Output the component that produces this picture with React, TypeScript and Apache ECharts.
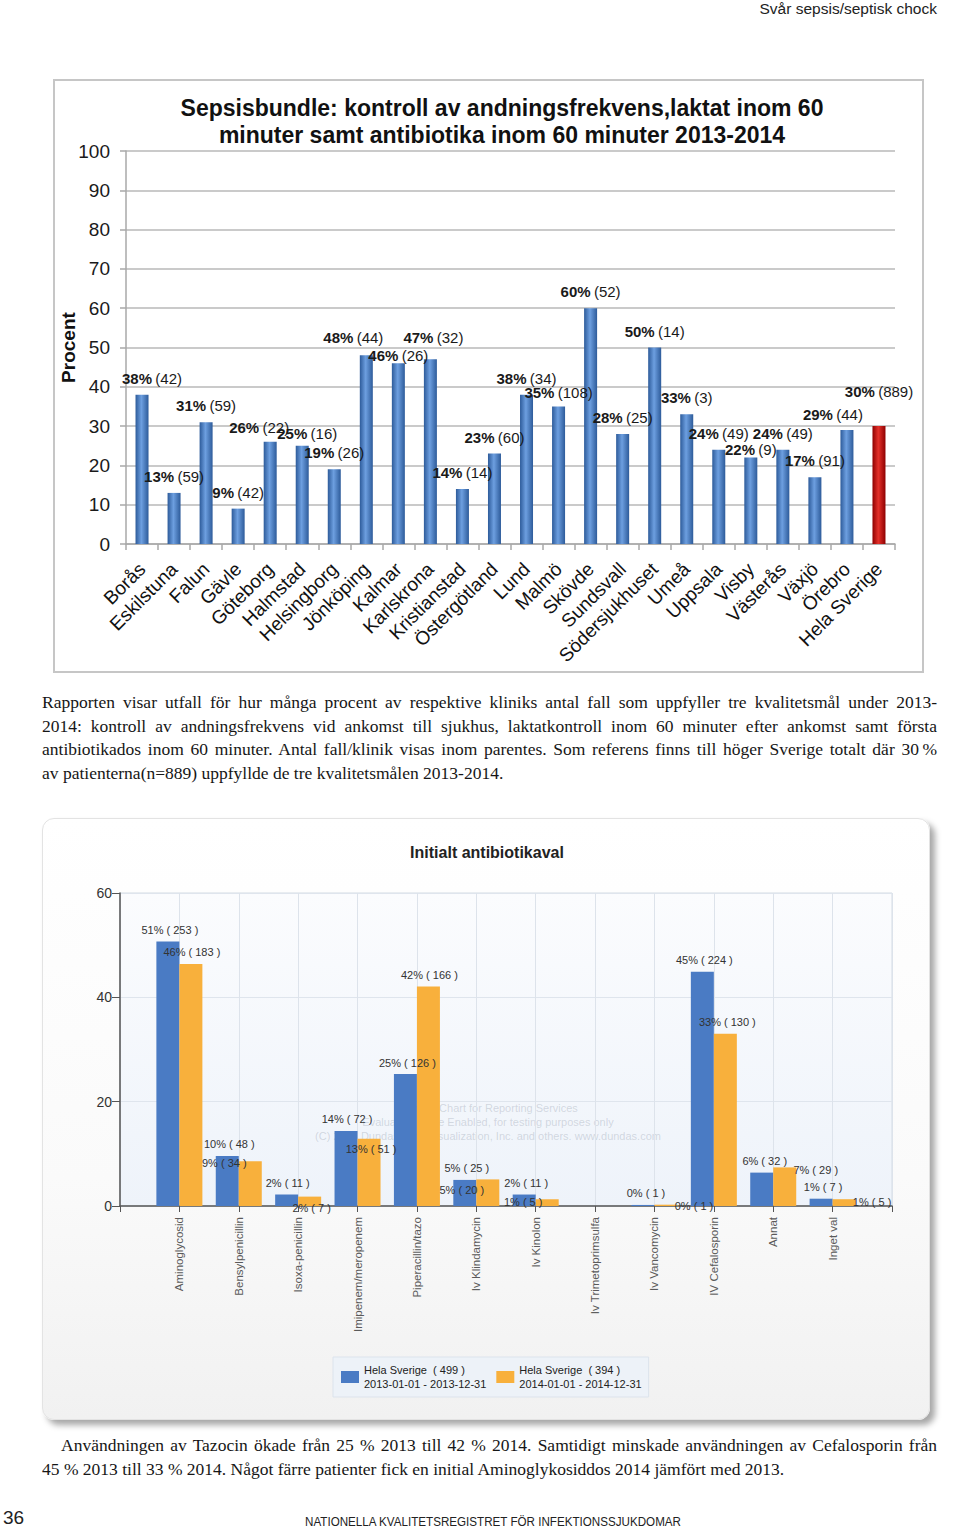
import React, { useEffect, useRef } from 'react';
import * as echarts from 'echarts';

// ---------- Top chart data ----------
const hospitals = [
  'Borås', 'Eskilstuna', 'Falun', 'Gävle', 'Göteborg', 'Halmstad', 'Helsingborg', 'Jönköping',
  'Kalmar', 'Karlskrona', 'Kristianstad', 'Östergötland', 'Lund', 'Malmö', 'Skövde', 'Sundsvall',
  'Södersjukhuset', 'Umeå', 'Uppsala', 'Visby', 'Västerås', 'Växjö', 'Örebro', 'Hela Sverige',
];
const bundlePercent = [38, 13, 31, 9, 26, 25, 19, 48, 46, 47, 14, 23, 38, 35, 60, 28, 50, 33, 24, 22, 24, 17, 29, 30];
const bundleCases = [42, 59, 59, 42, 22, 16, 26, 44, 26, 32, 14, 60, 34, 108, 52, 25, 14, 3, 49, 9, 49, 91, 44, 889];
const bundleYMax = 100;
const bundleYStep = 10;

// label nudges (layout only)
const bundleLabelOffsets = [
  [10, 0], [0, 0], [0, 0], [0, 0], [-11, 2], [5, 4], [0, 0], [-13, -1],
  [0, 9], [3, -5], [0, 0], [0, 0], [0, 0], [0, 3], [0, 0], [0, 0],
  [0, 0], [0, 0], [0, 0], [0, 8], [0, 0], [0, 0], [-14, 1], [0, -18],
];

// ---------- Bottom chart data ----------
const antibiotics = [
  'Aminoglycosid', 'Bensylpenicillin', 'Isoxa-penicillin', 'Imipenem/meropenem', 'Piperacillin/tazo',
  'Iv Klindamycin', 'Iv Kinolon', 'Iv Trimetoprimsulfa', 'Iv Vancomycin', 'IV Cefalosporin', 'Annat', 'Inget val',
];
const percent2013 = [50.7, 9.6, 2.2, 14.4, 25.3, 5.0, 2.2, null, 0.2, 44.9, 6.4, 1.4];
const count2013 = [253, 48, 11, 72, 126, 25, 11, null, 1, 224, 32, 7];
const percent2014 = [46.4, 8.6, 1.8, 12.9, 42.1, 5.1, 1.3, null, 0.25, 33.0, 7.4, 1.3];
const count2014 = [183, 34, 7, 51, 166, 20, 5, null, 1, 130, 29, 5];
const legend2013 = 'Hela Sverige  ( 499 )\n2013-01-01 - 2013-12-31';
const legend2014 = 'Hela Sverige  ( 394 )\n2014-01-01 - 2014-12-31';
const abYMax = 60;
const abYStep = 20;

const offsets2013 = [[2, 0], [2, 0], [1, 0], [1, 0], [2, 0], [2, 0], [2, 0], [0, 0], [3, 0], [2, 0], [3, 0], [2, 0]];
const offsets2014 = [[1, 0], [-26, 13], [2, 23], [2, 22], [1, 0], [-26, 22], [-24, 14], [0, 0], [28, 13], [2, 0], [31, 14], [28, 14]];

const SANS = "'Liberation Sans', Arial, sans-serif";
const NARROW = "'Liberation Sans Narrow', 'Arial Narrow', 'Liberation Sans', Arial, sans-serif";
const SERIF = "'Liberation Serif', 'Times New Roman', serif";

function buildTop() {
  const blue = new echarts.graphic.LinearGradient(0, 0, 1, 0, [
    { offset: 0, color: '#2d5b9a' },
    { offset: 0.45, color: '#6d9fe0' },
    { offset: 1, color: '#2d5b9a' },
  ]);
  const red = new echarts.graphic.LinearGradient(0, 0, 1, 0, [
    { offset: 0, color: '#8e0000' },
    { offset: 0.45, color: '#e4302a' },
    { offset: 1, color: '#8e0000' },
  ]);
  const last = hospitals.length - 1;
  return {
    animation: false,
    textStyle: { fontFamily: SANS },
    graphic: [
      {
        type: 'text', x: 449, y: 29,
        style: {
          text: 'Sepsisbundle: kontroll av andningsfrekvens,laktat inom 60',
          font: `bold 23px ${SANS}`, fill: '#111', align: 'center', verticalAlign: 'middle',
        },
      },
      {
        type: 'text', x: 449, y: 56,
        style: {
          text: 'minuter samt antibiotika inom 60 minuter 2013-2014',
          font: `bold 23px ${SANS}`, fill: '#111', align: 'center', verticalAlign: 'middle',
        },
      },
    ],
    grid: { left: 73, top: 72, width: 769, height: 393, containLabel: false, outerBoundsMode: 'none' },
    xAxis: {
      type: 'category',
      data: hospitals,
      axisLine: { lineStyle: { color: '#a8a8a8', width: 1.5 } },
      axisTick: { show: true, length: 6, lineStyle: { color: '#a8a8a8', width: 1.5 } },
      axisLabel: { interval: 0, rotate: 45, fontSize: 19, color: '#111', margin: 22, fontFamily: SANS },
    },
    yAxis: {
      type: 'value',
      min: 0, max: bundleYMax, interval: bundleYStep,
      name: 'Procent',
      nameLocation: 'middle',
      nameGap: 48,
      nameRotate: 90,
      nameMoveOverlap: false,
      nameTextStyle: { fontSize: 19, fontWeight: 'bold', color: '#111', fontFamily: SANS },
      axisLine: { show: true, lineStyle: { color: '#a8a8a8', width: 1.5 } },
      axisTick: { show: true, length: 6, lineStyle: { color: '#a8a8a8', width: 1.5 } },
      axisLabel: { fontSize: 19, color: '#1a1a1a', margin: 16, fontFamily: SANS },
      splitLine: { lineStyle: { color: '#b8b8b8', width: 1.5 } },
    },
    series: [
      {
        type: 'bar',
        barWidth: 13,
        data: bundlePercent.map((v, i) => ({
          value: v,
          itemStyle: { color: i === last ? red : blue },
          label: { offset: bundleLabelOffsets[i] },
        })),
        label: {
          show: true,
          position: 'top',
          distance: 9,
          formatter: (p: any) => `{b|${p.value}%} {n|(${bundleCases[p.dataIndex]})}`,
          rich: {
            b: { fontSize: 15, fontWeight: 'bold', color: '#1a1a1a', fontFamily: SANS },
            n: { fontSize: 15, color: '#1a1a1a', fontFamily: SANS },
          },
        },
      },
    ],
  };
}

function buildBottom() {
  const cats = ['', ...antibiotics, ''];
  const pad = (a: any[]) => [null, ...a, null];
  const mk = (vals: any[], offs: number[][]) =>
    pad(vals).map((v, i) => (v == null ? null : { value: v, label: { offset: offs[i - 1] } }));
  const labelStyle = {
    show: true,
    position: 'top',
    distance: 6,
    fontSize: 11,
    color: '#333',
    fontFamily: NARROW,
  };
  const wm = 'rgba(130,140,155,0.3)';
  return {
    animation: false,
    textStyle: { fontFamily: NARROW },
    graphic: [
      {
        type: 'text', x: 445, y: 34,
        style: { text: 'Initialt antibiotikaval', font: `bold 16px ${SANS}`, fill: '#222', align: 'center', verticalAlign: 'middle' },
      },
      {
        type: 'group',
        children: [
          { type: 'text', x: 446, y: 290, style: { text: 'Dundas Chart for Reporting Services', font: `11px ${NARROW}`, fill: wm, align: 'center', verticalAlign: 'middle' } },
          { type: 'text', x: 446, y: 304, style: { text: 'Evaluation Mode Enabled, for testing purposes only', font: `11px ${NARROW}`, fill: wm, align: 'center', verticalAlign: 'middle' } },
          { type: 'text', x: 446, y: 318, style: { text: '(C) 2007 Dundas Data Visualization, Inc. and others. www.dundas.com', font: `11px ${NARROW}`, fill: wm, align: 'center', verticalAlign: 'middle' } },
        ],
      },
    ],
    legend: {
      left: 291,
      top: 539,
      orient: 'horizontal',
      itemWidth: 18,
      itemHeight: 12,
      itemGap: 10,
      icon: 'rect',
      padding: [6, 7, 6, 8],
      backgroundColor: '#edf2f8',
      borderColor: '#dce3ec',
      borderWidth: 1,
      data: [legend2013, legend2014],
      textStyle: { fontSize: 11, lineHeight: 14, color: '#222', fontFamily: NARROW },
    },
    grid: {
      left: 78, top: 75, width: 772, height: 313,
      containLabel: false,
      outerBoundsMode: 'none',
      show: true,
      backgroundColor: new echarts.graphic.LinearGradient(0, 0, 0, 1, [
        { offset: 0, color: '#fbfcfe' },
        { offset: 1, color: '#eef3fa' },
      ]),
      borderColor: '#d5dce5',
      borderWidth: 1,
    },
    xAxis: {
      type: 'category',
      data: cats,
      boundaryGap: false,
      axisLine: { lineStyle: { color: '#555', width: 1.5 } },
      axisTick: { show: true, length: 6, interval: 0, lineStyle: { color: '#555' } },
      splitLine: { show: true, interval: 0, lineStyle: { color: '#dde3eb', width: 1 } },
      axisLabel: { interval: 0, rotate: 90, fontSize: 11.5, color: '#5a5a5a', margin: 11, fontFamily: SANS },
    },
    yAxis: {
      type: 'value',
      min: 0, max: abYMax, interval: abYStep,
      axisLine: { show: true, lineStyle: { color: '#555', width: 1.5 } },
      axisTick: { show: true, length: 8, lineStyle: { color: '#555' } },
      axisLabel: { fontSize: 14, color: '#333', margin: 8, fontFamily: NARROW },
      splitLine: { lineStyle: { color: '#dfe5ed', width: 1 } },
    },
    series: [
      {
        name: legend2013,
        type: 'bar',
        barWidth: 23,
        barGap: '0%',
        itemStyle: { color: '#4a7bc4' },
        data: mk(percent2013, offsets2013),
        label: {
          ...labelStyle,
          formatter: (p: any) => `${Math.round(p.value)}% ( ${count2013[p.dataIndex - 1]} )`,
        },
      },
      {
        name: legend2014,
        type: 'bar',
        barWidth: 23,
        barGap: '0%',
        itemStyle: { color: '#f8b03c' },
        data: mk(percent2014, offsets2014),
        label: {
          ...labelStyle,
          formatter: (p: any) => `${Math.round(p.value)}% ( ${count2014[p.dataIndex - 1]} )`,
        },
      },
    ],
  };
}

const para1 = [
  'Rapporten visar utfall för hur många procent av respektive kliniks antal fall som uppfyller tre kvalitetsmål under 2013-',
  '2014: kontroll av andningsfrekvens vid ankomst till sjukhus, laktatkontroll inom 60 minuter efter ankomst samt första',
  'antibiotikados inom 60 minuter. Antal fall/klinik visas inom parentes. Som referens finns till höger Sverige totalt där 30\u202f%',
  'av patienterna(n=889) uppfyllde de tre kvalitetsmålen 2013-2014.',
];
const para2 = [
  'Användningen av Tazocin ökade från 25 % 2013 till 42 % 2014. Samtidigt minskade användningen av Cefalosporin från',
  '45 % 2013 till 33 % 2014. Något färre patienter fick en initial Aminoglykosiddos 2014 jämfört med 2013.',
];

function Paragraph({ lines, top, indent }: { lines: string[]; top: number; indent: number }) {
  return (
    <div style={{ position: 'absolute', left: 42, top, width: 895, fontFamily: SERIF, fontSize: 17.5, lineHeight: '23.7px', color: '#161616' }}>
      {lines.map((l, i) => {
        const lastLine = i === lines.length - 1;
        return (
          <div
            key={i}
            style={{
              whiteSpace: 'nowrap',
              textAlign: lastLine ? 'left' : 'justify',
              textAlignLast: lastLine ? 'left' : 'justify',
              paddingLeft: i === 0 ? indent : 0,
            }}
          >
            {l}
          </div>
        );
      })}
    </div>
  );
}

export default function App() {
  const topRef = useRef<HTMLDivElement>(null);
  const botRef = useRef<HTMLDivElement>(null);

  useEffect(() => {
    const c1 = echarts.init(topRef.current!, undefined, { renderer: 'svg' });
    c1.setOption(buildTop() as any);
    const c2 = echarts.init(botRef.current!, undefined, { renderer: 'svg' });
    c2.setOption(buildBottom() as any);
    return () => {
      c1.dispose();
      c2.dispose();
    };
  }, []);

  return (
    <div style={{ position: 'absolute', left: 0, top: 0, width: 960, height: 1529, background: '#fff', overflow: 'hidden' }}>
      <div style={{ position: 'absolute', right: 23, top: 0, fontFamily: NARROW, fontSize: 15.5, lineHeight: '17px', color: '#222', whiteSpace: 'nowrap' }}>
        Svår sepsis/septisk chock
      </div>

      <div style={{ position: 'absolute', left: 53, top: 79, width: 871, height: 594, boxSizing: 'border-box', border: '2px solid #c6c6c6' }} />
      <div ref={topRef} style={{ position: 'absolute', left: 53, top: 79, width: 871, height: 594 }} />

      <Paragraph lines={para1} top={691} indent={0} />

      <div
        style={{
          position: 'absolute', left: 42, top: 818, width: 888, height: 602, boxSizing: 'border-box',
          borderRadius: 12, border: '1px solid #e3e3e3',
          background: 'linear-gradient(180deg, #ffffff 0%, #fafafa 60%, #f1f1f1 100%)',
          boxShadow: '5px 5px 6px rgba(0,0,0,0.35)',
        }}
      />
      <div ref={botRef} style={{ position: 'absolute', left: 42, top: 818, width: 888, height: 602 }} />

      <Paragraph lines={para2} top={1434} indent={19} />

      <div style={{ position: 'absolute', left: 3, top: 1507, fontFamily: NARROW, fontSize: 19, lineHeight: '22px', color: '#222' }}>36</div>
      <div
        style={{
          position: 'absolute', left: 493, top: 1514, whiteSpace: 'nowrap',
          transform: 'translateX(-50%) scaleX(0.93)',
          fontFamily: NARROW, fontSize: 12.5, lineHeight: '16px', color: '#222',
        }}
      >
        NATIONELLA KVALITETSREGISTRET FÖR INFEKTIONSSJUKDOMAR
      </div>
    </div>
  );
}
